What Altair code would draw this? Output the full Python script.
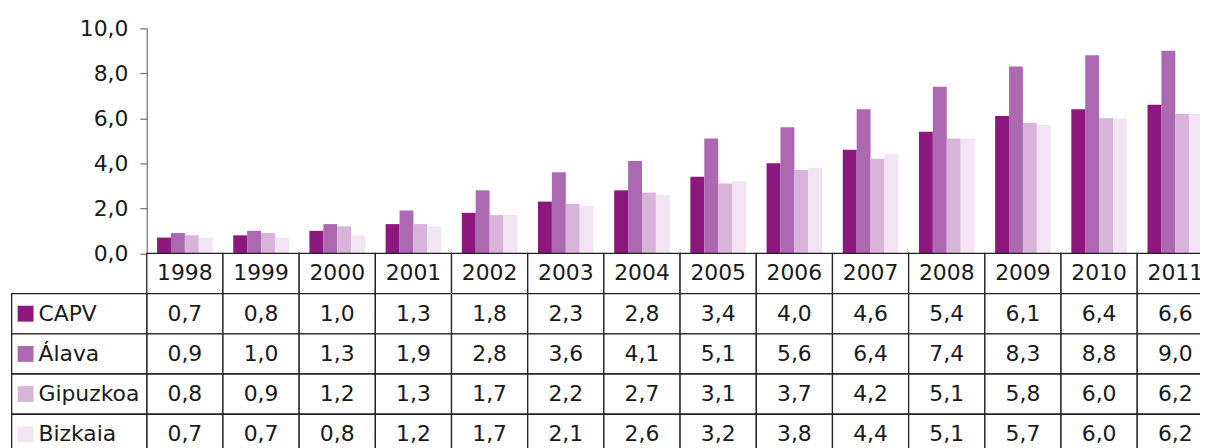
import altair as alt
import pandas as pd

years = [str(y) for y in range(1998, 2012)]
series = ["CAPV", "Álava", "Gipuzkoa", "Bizkaia"]
capv = [0.7, 0.8, 1.0, 1.3, 1.8, 2.3, 2.8, 3.4, 4.0, 4.6, 5.4, 6.1, 6.4, 6.6]
alava = [0.9, 1.0, 1.3, 1.9, 2.8, 3.6, 4.1, 5.1, 5.6, 6.4, 7.4, 8.3, 8.8, 9.0]
gipuzkoa = [0.8, 0.9, 1.2, 1.3, 1.7, 2.2, 2.7, 3.1, 3.7, 4.2, 5.1, 5.8, 6.0, 6.2]
bizkaia = [0.7, 0.7, 0.8, 1.2, 1.7, 2.1, 2.6, 3.2, 3.8, 4.4, 5.1, 5.7, 6.0, 6.2]
colors = ["#8C187D", "#AC69B1", "#D8B4DA", "#F2E4F2"]
y_ticks = [0, 2, 4, 6, 8, 10]

values = {"CAPV": capv, "Álava": alava, "Gipuzkoa": gipuzkoa, "Bizkaia": bizkaia}

STEP = 76.7
FULL_W = STEP * len(years)
PAD_L = 139.7
PAD_T = 19
SVG_W = 1200
SVG_H = 440
VIEW_W = SVG_W - PAD_L
PLOT_H = 226.5
ROW_H = 40.5
FONT = "DejaVu Sans"
FS = 22

rows = ["header"] + series

bars_df = pd.DataFrame(
    [{"year": y, "series": s, "value": values[s][i]} for s in series for i, y in enumerate(years)]
)
cells = [{"year": y, "row": "header", "label": y} for y in years]
for s in series:
    for i, y in enumerate(years):
        cells.append({"year": y, "row": s, "label": f"{values[s][i]:.1f}".replace(".", ",")})
cells_df = pd.DataFrame(cells)
left_df = pd.DataFrame({"row": series, "series": series})

x_enc = alt.X("year:N", sort=years, axis=None,
              scale=alt.Scale(paddingInner=0, paddingOuter=0, range=[0, FULL_W]))


def row_y():
    return alt.Y("row:N", axis=None,
                 scale=alt.Scale(domain=rows, range=[PLOT_H, PLOT_H + ROW_H * len(rows)],
                                 paddingInner=0, paddingOuter=0))


color_enc = alt.Color("series:N", legend=None,
                      scale=alt.Scale(domain=series, range=colors))

bars = alt.Chart(bars_df).mark_bar().encode(
    x=x_enc,
    xOffset=alt.XOffset("series:N", sort=series,
                        scale=alt.Scale(paddingOuter=0.74, paddingInner=0)),
    y=alt.Y("value:Q", scale=alt.Scale(domain=[0, 10]),
            axis=alt.Axis(values=y_ticks, title=None, grid=False, tickSize=7,
                          labelPadding=12, labelFont=FONT, labelFontSize=FS,
                          labelColor="#1a1a1a", domainColor="#7a7a7a", tickColor="#7a7a7a",
                          domainWidth=1.3, tickWidth=1.3,
                          labelExpr="replace(format(datum.value, '.1f'), '.', ',')")),
    color=color_enc,
)

cell_rects = alt.Chart(cells_df).mark_rect(fill="white", stroke="#222222", strokeWidth=1.3).encode(
    x=x_enc, y=row_y()
)

left_rects = alt.Chart(left_df).mark_rect(fill="white", stroke="#222222", strokeWidth=1.3).encode(
    x=alt.value(-136), x2=alt.value(0), y=row_y()
)

cell_text = alt.Chart(cells_df).mark_text(font=FONT, fontSize=FS, color="#1a1a1a").encode(
    x=x_enc, y=row_y(), text="label:N"
)

squares = alt.Chart(left_df).mark_square(size=256, opacity=1).encode(
    x=alt.value(-122), y=row_y(), color=color_enc
)

left_text = alt.Chart(left_df).mark_text(font=FONT, fontSize=FS, color="#1a1a1a", align="left").encode(
    x=alt.value(-109), y=row_y(), text="series:N"
)

chart = alt.layer(bars, cell_rects, left_rects, cell_text, squares, left_text).resolve_scale(
    y="independent"
).properties(
    width=VIEW_W, height=PLOT_H,
    autosize=alt.AutoSizeParams(type="none"),
    padding={"left": PAD_L, "top": PAD_T, "right": 0, "bottom": SVG_H - PAD_T - PLOT_H},
).configure_view(stroke=None)

chart.save("out.html", embed_options={"renderer": "svg", "actions": False})
